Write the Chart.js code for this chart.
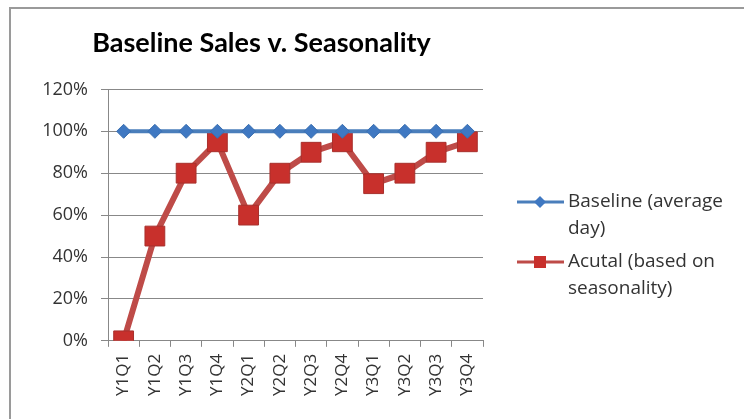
<!DOCTYPE html>
<html>
<head>
<meta charset="utf-8">
<script src="https://cdn.jsdelivr.net/npm/chart.js@4/dist/chart.umd.min.js"></script>
<style>
  body { margin: 0; background: #fff; }
  #wrap { width: 744px; height: 419px; }
</style>
</head>
<body>
<div id="wrap"><canvas id="salesChart" width="744" height="419"></canvas></div>
<script>
const quarters = ["Y1Q1", "Y1Q2", "Y1Q3", "Y1Q4", "Y2Q1", "Y2Q2", "Y2Q3", "Y2Q4", "Y3Q1", "Y3Q2", "Y3Q3", "Y3Q4"];
const baseline = [1, 1, 1, 1, 1, 1, 1, 1, 1, 1, 1, 1];
const actual = [0, 0.5, 0.8, 0.95, 0.6, 0.8, 0.9, 0.95, 0.75, 0.8, 0.9, 0.95];
const legendLabels = [["Baseline (average", "day)"], ["Acutal (based on", "seasonality)"]];

const blue = "#4A7EBB";
const red = "#BE4B48";

// outer frame like the spreadsheet chart border
const framePlugin = {
    id: "frame",
    beforeDraw(chart) {
        const ctx = chart.ctx;
        ctx.save();
        ctx.fillStyle = "#fff";
        ctx.fillRect(0, 0, chart.width, chart.height);
        ctx.strokeStyle = "#9a9a9a";
        ctx.lineWidth = 2;
        ctx.strokeRect(10, 8, 800, 500);
        ctx.restore();
    }
};

// legend with wrapped text on the right
const sideLegend = {
    id: "sideLegend",
    afterDraw(chart) {
        const ctx = chart.ctx;
        const rows = [202, 262];
        ctx.save();
        chart.data.datasets.forEach((ds, i) => {
            const y = rows[i];
            ctx.strokeStyle = ds.borderColor;
            ctx.lineWidth = 3;
            ctx.beginPath();
            ctx.moveTo(517, y);
            ctx.lineTo(564, y);
            ctx.stroke();
            ctx.fillStyle = ds.backgroundColor;
            if (i === 0) {
                ctx.beginPath();
                ctx.moveTo(540, y - 6);
                ctx.lineTo(546, y);
                ctx.lineTo(540, y + 6);
                ctx.lineTo(534, y);
                ctx.closePath();
                ctx.fill();
            } else {
                ctx.fillRect(534, y - 6, 12, 12);
            }
            ctx.fillStyle = "#333";
            ctx.font = "19px 'Open Sans'";
            ctx.textBaseline = "middle";
            legendLabels[i].forEach((line, j) => {
                ctx.fillText(line, 568, y + j * 27);
            });
        });
        ctx.restore();
    }
};

new Chart(document.getElementById("salesChart"), {
    type: "line",
    data: {
        labels: quarters,
        datasets: [
            {
                label: "Baseline (average day)",
                data: baseline,
                borderColor: blue,
                backgroundColor: "#3f78c2",
                borderWidth: 4,
                pointStyle: "rectRot",
                pointRadius: 7,
                pointBorderWidth: 1,
                pointBorderColor: "#3a6fb0",
                tension: 0
            },
            {
                label: "Acutal (based on seasonality)",
                data: actual,
                borderColor: red,
                backgroundColor: "#c8302c",
                borderWidth: 6,
                pointStyle: "rect",
                pointRadius: 14,
                pointBorderWidth: 1,
                pointBorderColor: "#a8302c",
                tension: 0
            }
        ]
    },
    options: {
        responsive: false,
        animation: false,
        layout: { padding: { left: 40, right: 261, top: 12, bottom: 16 } },
        plugins: {
            legend: { display: false },
            tooltip: { enabled: false },
            title: {
                display: true,
                text: "Baseline Sales v. Seasonality",
                color: "#000",
                font: { family: "Lato", size: 27, weight: "bold" },
                padding: { top: 15, bottom: 30 }
            }
        },
        scales: {
            x: {
                offset: true,
                grid: { drawOnChartArea: false, offset: true, tickLength: 6, color: "#888" },
                border: { color: "#888" },
                ticks: {
                    minRotation: 90,
                    maxRotation: 90,
                    autoSkip: false,
                    color: "#333",
                    padding: 7,
                    font: { family: "Open Sans", size: 17 }
                }
            },
            y: {
                min: 0,
                max: 1.2,
                afterFit(scale) { scale.width = 68; },
                grid: { color: "#888", tickLength: 7 },
                border: { color: "#888" },
                ticks: {
                    stepSize: 0.2,
                    color: "#333",
                    padding: 13,
                    font: { family: "Open Sans", size: 18 },
                    callback: v => Math.round(v * 100) + "%"
                }
            }
        }
    },
    plugins: [framePlugin, sideLegend]
});
</script>
</body>
</html>
